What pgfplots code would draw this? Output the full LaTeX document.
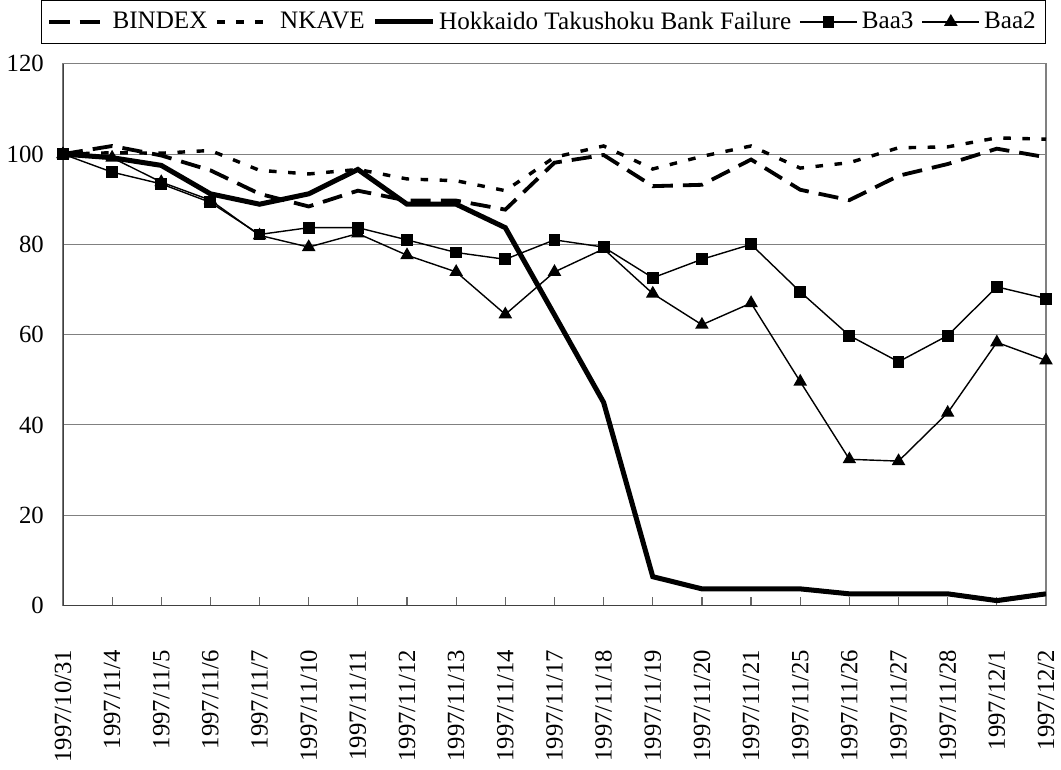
\documentclass[border=0pt]{standalone}
\usepackage{pgfplots}
\pgfplotsset{compat=1.18}
\usepackage{pgfplotstable}
\usepackage{fontspec}
\setmainfont{Liberation Serif}

\pgfplotstableread{
idx BINDEX NKAVE HTB Baa3 Baa2
0 100 100 100 100 100
1 101.8 100.3 99.2 96 99.2
2 99.7 100.2 97.5 93.4 93.8
3 96.4 100.8 91.2 89.3 89.8
4 91.2 96.4 88.9 82.2 82
5 88.4 95.6 91.2 83.7 79.4
6 91.9 96.6 96.6 83.7 82.4
7 89.7 94.5 88.9 81 77.6
8 89.7 94.1 88.9 78.2 73.9
9 87.7 91.9 83.7 76.7 64.5
10 98.1 99.3 64.4 81 73.9
11 99.8 101.8 45 79.4 79
12 92.9 96.7 6.4 72.6 69.1
13 93.2 99.5 3.7 76.7 62.2
14 98.8 101.8 3.7 80 67
15 92.1 96.9 3.7 69.5 49.6
16 89.8 98.1 2.6 59.8 32.4
17 95.2 101.4 2.6 54 32
18 97.8 101.6 2.6 59.8 42.7
19 101.2 103.6 1.1 70.6 58.3
20 99.3 103.3 2.6 68 54.3
}\datatable

\begin{document}
\begin{tikzpicture}
\begin{axis}[
  scale only axis,
  width=489pt, height=269.5pt,
  xmin=0, xmax=20, ymin=0, ymax=120,
  xtick={0,...,20},
  xticklabels={1997/10/31,1997/11/4,1997/11/5,1997/11/6,1997/11/7,1997/11/10,1997/11/11,1997/11/12,1997/11/13,1997/11/14,1997/11/17,1997/11/18,1997/11/19,1997/11/20,1997/11/21,1997/11/25,1997/11/26,1997/11/27,1997/11/28,1997/12/1,1997/12/2},
  ytick={0,20,...,120},
  ymajorgrids,
  major grid style={gray, line width=0.5pt},
  axis line style={gray, line width=0.5pt},
  tick align=inside,
  xtick pos=bottom,
  ytick style={draw=none},
  x tick style={gray!80!black, line width=0.6pt},
  major tick length=4.5pt,
  xticklabel style={rotate=90, anchor=east, font=\fontsize{12.3}{14}\selectfont},
  xticklabel shift=18.5pt,
  yticklabel style={font=\fontsize{12.3}{14}\selectfont},
  yticklabel shift=6pt,
  /pgf/number format/assume math mode=true,
  legend style={at={(0.489,1.037)}, anchor=south, legend columns=-1, draw=black, line width=0.6pt,
    font=\fontsize{12.5}{15}\selectfont, inner ysep=3.5pt, inner xsep=3pt,
    /tikz/every even column/.append style={column sep=2pt}},
  legend image code/.code={\draw[mark repeat=2, mark phase=2] plot coordinates {(0cm,0cm) (0.5cm,0cm) (1.0cm,0cm)};},
]
\addplot[black, line width=1.9pt, dash pattern=on 10pt off 5pt] table[x=idx, y=BINDEX] {\datatable};
\addlegendentry{BINDEX}
\addplot[black, line width=1.7pt, dash pattern=on 3.75pt off 5.75pt] table[x=idx, y=NKAVE] {\datatable};
\addlegendentry{NKAVE}
\addplot[black, line width=2.5pt] table[x=idx, y=HTB] {\datatable};
\addlegendentry{Hokkaido Takushoku Bank Failure}
\addplot[black, line width=0.7pt, mark=square*, mark size=2.6pt] table[x=idx, y=Baa3] {\datatable};
\addlegendentry{Baa3}
\addplot[black, line width=0.7pt, mark=triangle*, mark size=3.2pt] table[x=idx, y=Baa2] {\datatable};
\addlegendentry{Baa2}
\draw[darkgray, line width=0.8pt] (rel axis cs:0,1) -- (rel axis cs:0,0) -- (rel axis cs:1,0);
\end{axis}
\end{tikzpicture}
\end{document}
